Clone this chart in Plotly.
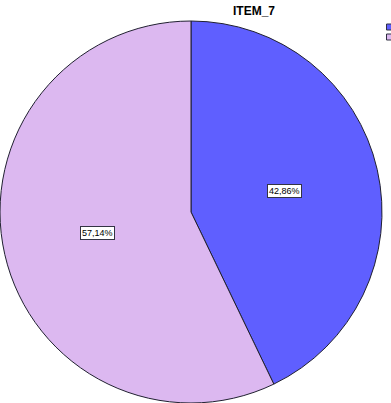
import math
import plotly.graph_objects as go

labels = ["1", "2"]
values = [42.86, 57.14]
text_labels = ["42,86%", "57,14%"]
colors = ["#5F5FFF", "#DCB8F0"]
title = "ITEM_7"

W, H = 391, 403
dom_x = [0, 382 / W]
dom_y = [0, 1 - 21 / H]

fig = go.Figure(go.Pie(
    labels=labels, values=values, sort=False, direction="clockwise", rotation=0,
    marker=dict(colors=colors, line=dict(color="#202030", width=1)),
    textinfo="none", hoverinfo="label+percent", domain=dict(x=dom_x, y=dom_y),
    showlegend=False,
))

# label boxes positioned from slice mid-angles
cx = (dom_x[0] + dom_x[1]) / 2 * W
cy = (1 - (dom_y[0] + dom_y[1]) / 2) * H
r = min((dom_x[1] - dom_x[0]) * W, (dom_y[1] - dom_y[0]) * H) / 2
total = sum(values)
cum = 0
for v, t in zip(values, text_labels):
    mid = (cum + v / 2) / total * 2 * math.pi
    cum += v
    px = cx + 0.5 * r * math.sin(mid)
    py = cy - 0.5 * r * math.cos(mid)
    fig.add_annotation(x=px / W, y=1 - py / H, xref="paper", yref="paper", text=t,
                       xanchor="center", yanchor="middle",
                       showarrow=False, font=dict(family="Liberation Sans, Arial", size=9, color="black"),
                       bgcolor="white", bordercolor="#333344", borderwidth=1, borderpad=1)

# legend swatches at the right edge (their labels fall outside the visible area)
for i, c in enumerate(colors):
    top = 24 + i * 10
    fig.add_shape(type="rect", xref="paper", yref="paper",
                  x0=386.5 / W, x1=393 / W, y0=1 - top / H, y1=1 - (top + 6) / H,
                  fillcolor=c, line=dict(color="#303040", width=1))

fig.update_layout(
    width=W, height=H, margin=dict(l=0, r=0, t=0, b=0, autoexpand=False),
    paper_bgcolor="white", plot_bgcolor="white",
    title=dict(text="<b>" + title + "</b>", x=254 / W, xanchor="center", y=1 - 11 / H, yanchor="middle",
               font=dict(family="Liberation Sans, Arial", size=12, color="black")),
)
fig.write_html("out.html")
